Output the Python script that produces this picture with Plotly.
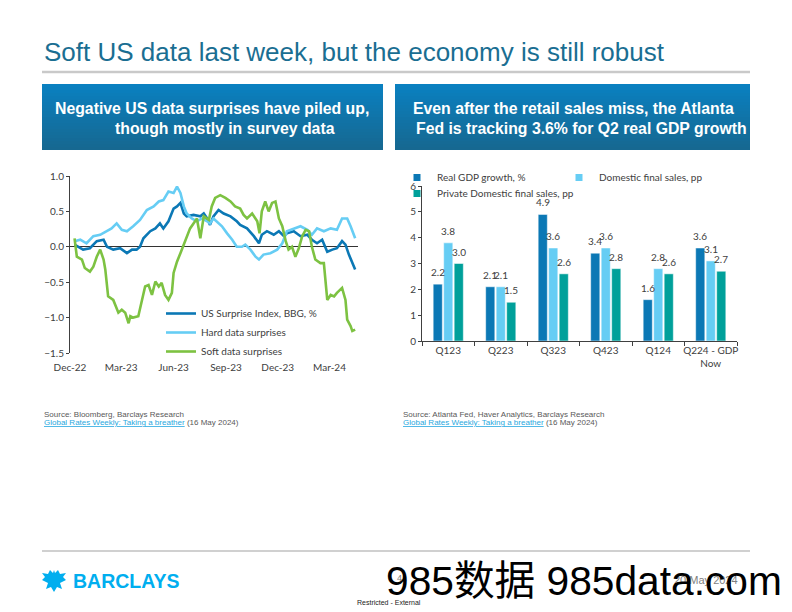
import plotly.graph_objects as go
import pandas as pd

W, H = 792, 612


def px(x):
    return x / W


def py(y):
    return 1 - y / H


# -------------------------------------------------
# Data: left chart (days after 1 Dec 2022, index value)
# -------------------------------------------------
START = pd.Timestamp("2022-12-01")

us_days = [8, 23, 35, 47, 59, 65, 76, 88, 100, 109, 117, 123, 129, 141, 150, 158,
           164, 173, 182, 188, 194, 200, 205, 217, 229, 235, 241, 246, 252, 261,
           270, 282, 293, 299, 311, 323, 332, 337, 346, 358, 367, 376, 381, 393,
           405, 417, 425, 434, 443, 452, 461, 469, 478, 484, 490, 496, 501]
us_vals = [0.03, -0.04, -0.02, 0.08, 0.10, 0.0, -0.04, -0.02, -0.09, -0.04, -0.04,
           0.0, 0.12, 0.22, 0.26, 0.33, 0.26, 0.36, 0.54, 0.57, 0.62, 0.47, 0.43,
           0.45, 0.43, 0.47, 0.40, 0.31, 0.43, 0.52, 0.47, 0.43, 0.36, 0.31, 0.26,
           0.15, 0.05, 0.17, 0.22, 0.17, 0.22, 0.15, 0.19, 0.22, 0.15, 0.17, 0.10,
           0.05, 0.10, -0.07, -0.04, -0.02, 0.08, 0.03, -0.11, -0.23, -0.32]

hard_days = [8, 18, 29, 41, 53, 65, 73, 82, 91, 100, 111, 123, 135, 147, 156, 164,
             173, 182, 188, 194, 200, 205, 214, 223, 232, 241, 246, 252, 258, 267,
             276, 285, 293, 302, 308, 317, 326, 332, 340, 352, 364, 373, 381, 393,
             405, 417, 425, 434, 446, 458, 469, 478, 487, 493, 501]
hard_vals = [0.08, 0.10, 0.05, 0.15, 0.17, 0.22, 0.26, 0.33, 0.24, 0.22, 0.29, 0.38,
             0.52, 0.57, 0.64, 0.66, 0.78, 0.76, 0.85, 0.76, 0.57, 0.47, 0.40, 0.36,
             0.40, 0.36, 0.33, 0.40, 0.36, 0.29, 0.19, 0.10, 0.0, 0.0, 0.03, -0.04,
             -0.14, -0.18, -0.11, -0.09, -0.04, 0.05, 0.22, 0.26, 0.29, 0.24, 0.17,
             0.26, 0.22, 0.26, 0.24, 0.40, 0.40, 0.29, 0.12]

soft_days = [8, 12, 21, 26, 35, 41, 47, 53, 59, 62, 67, 76, 85, 91, 97, 103, 106,
             111, 120, 126, 132, 138, 144, 150, 156, 161, 167, 173, 179, 182, 188,
             194, 200, 205, 211, 217, 223, 229, 235, 244, 249, 255, 264, 273, 282,
             290, 299, 305, 311, 320, 329, 333, 337, 343, 349, 355, 361, 367, 373,
             379, 384, 390, 396, 402, 408, 414, 420, 425, 431, 440, 446, 452, 458,
             464, 469, 478, 484, 487, 493, 496, 501]
soft_vals = [0.12, -0.14, -0.18, -0.30, -0.35, -0.28, -0.14, -0.04, -0.18, -0.32,
             -0.70, -0.75, -0.93, -0.89, -0.93, -1.08, -0.98, -1.0, -0.98, -0.75,
             -0.56, -0.54, -0.68, -0.49, -0.56, -0.51, -0.68, -0.75, -0.65, -0.37,
             -0.21, -0.09, 0.03, 0.12, 0.26, 0.33, 0.40, 0.12, 0.43, 0.38, 0.57,
             0.69, 0.73, 0.69, 0.64, 0.57, 0.54, 0.45, 0.40, 0.47, 0.36, 0.19, 0.50,
             0.64, 0.50, 0.62, 0.64, 0.40, 0.29, 0.08, -0.04, 0.0, -0.14, -0.02,
             0.15, 0.24, 0.22, 0.0, -0.18, -0.23, -0.23, -0.75, -0.68, -0.70, -0.65,
             -0.58, -0.75, -1.03, -1.12, -1.19, -1.17]

# -------------------------------------------------
# Data: right chart
# -------------------------------------------------
quarters = ["Q123", "Q223", "Q323", "Q423", "Q124", "Q224 - GDP<br>Now"]
real_gdp = [2.2, 2.1, 4.9, 3.4, 1.6, 3.6]
dom_final = [3.8, 2.1, 3.6, 3.6, 2.8, 3.1]
priv_dom = [3.0, 1.5, 2.6, 2.8, 2.6, 2.7]

DARK = "#0b78b5"
LIGHT = "#66cdf4"
TEAL = "#00a09a"
GREEN = "#7dc242"
AXIS = "#404040"
CHART_FONT = "Lato"
SANS = "Liberation Sans"


def to_dates(days):
    return [START + pd.Timedelta(days=d) for d in days]


fig = go.Figure()

# -------------------------------------------------
# Left: surprise indices
# -------------------------------------------------
for name, days, vals, color in [
    ("US Surprise Index, BBG, %", us_days, us_vals, DARK),
    ("Hard data surprises", hard_days, hard_vals, LIGHT),
    ("Soft data surprises", soft_days, soft_vals, GREEN),
]:
    fig.add_trace(go.Scatter(
        x=to_dates(days), y=vals, mode="lines", name=name,
        line=dict(color=color, width=2.6),
        xaxis="x", yaxis="y", legend="legend",
    ))

# -------------------------------------------------
# Right: GDP tracking bars
# -------------------------------------------------
bar_series = [
    ("Real GDP growth, %", real_gdp, DARK, "legend2"),
    ("Domestic final sales, pp", dom_final, LIGHT, "legend2"),
    ("Private Domestic final sales, pp", priv_dom, TEAL, "legend3"),
]
for name, vals, color, leg in bar_series:
    fig.add_trace(go.Bar(
        x=quarters, y=vals, name=name, marker_color=color,
        marker_line=dict(color="white", width=0.5),
        xaxis="x2", yaxis="y2", showlegend=False,
    ))
    # legend-only entry with a small square swatch
    fig.add_trace(go.Scatter(
        x=[None], y=[None], mode="markers", name=name,
        marker=dict(symbol="square", size=7, color=color),
        xaxis="x2", yaxis="y2", legend=leg,
    ))

annotations = []
offsets = [-10.3, 0, 10.3]
for (name, vals, color, leg), dx in zip(bar_series, offsets):
    for q, v in zip(quarters, vals):
        annotations.append(dict(
            x=q, y=v, xref="x2", yref="y2", text=f"{v:.1f}", showarrow=False,
            xshift=dx, yshift=4, yanchor="bottom",
            font=dict(family=CHART_FONT, size=10, color=AXIS),
        ))

# -------------------------------------------------
# Slide furniture
# -------------------------------------------------
shapes = [
    dict(type="line", xref="paper", yref="paper", x0=px(42), x1=px(750),
         y0=py(72), y1=py(72), line=dict(color="#c9c9c9", width=2.5)),
    dict(type="line", xref="paper", yref="paper", x0=px(42), x1=px(750),
         y0=py(551), y1=py(551), line=dict(color="#d0d0d0", width=2)),
]

# header boxes with a vertical gradient
top_rgb, bot_rgb = (10, 128, 192), (22, 104, 145)
n_strips = 22
for x0, x1 in [(42, 383), (395, 750)]:
    for i in range(n_strips):
        t = i / (n_strips - 1)
        c = tuple(round(a + (b - a) * t) for a, b in zip(top_rgb, bot_rgb))
        y0 = 84 + (150 - 84) * i / n_strips
        y1 = 84 + (150 - 84) * (i + 1) / n_strips
        shapes.append(dict(
            type="rect", xref="paper", yref="paper", layer="below",
            x0=px(x0), x1=px(x1), y0=py(min(y1 + 0.6, 150)), y1=py(y0),
            fillcolor=f"rgb{c}", line=dict(width=0),
        ))

# simple eagle mark for the logo
shapes.append(dict(
    type="path", xref="paper", yref="paper", xsizemode="pixel", ysizemode="pixel",
    xanchor=px(54), yanchor=py(581),
    path="M 0,-11 L -3,-6 L -8,-8 L -6,-2 L -12,1 L -9,4 L -12,8 L -6,7 L -4,11 "
         "L -1,8 L 0,11 L 1,8 L 4,11 L 6,7 L 12,8 L 9,4 L 12,1 L 6,-2 L 8,-8 "
         "L 3,-6 Z",
    fillcolor="#00aeef", line=dict(width=0),
))

texts = [
    ("Soft US data last week, but the economy is still robust", 42, 52, "left",
     dict(family=SANS, size=26, color="#1a6e92")),
    ("<b>Negative US data surprises have piled up,</b>", 212, 108, "center",
     dict(family=SANS, size=15.8, color="white")),
    ("<b>though mostly in survey data</b>", 225, 128, "center",
     dict(family=SANS, size=15.8, color="white")),
    ("<b>Even after the retail sales miss, the Atlanta</b>", 573, 108, "center",
     dict(family=SANS, size=15.8, color="white")),
    ("<b>Fed is tracking 3.6% for Q2 real GDP growth</b>", 581, 128, "center",
     dict(family=SANS, size=15.8, color="white")),
    ("Source: Bloomberg, Barclays Research", 42, 414, "left",
     dict(family=SANS, size=8, color="#595959")),
    ("<span style='color:#29a8e0;text-decoration:underline'>Global Rates Weekly: "
     "Taking a breather</span> (16 May 2024)", 42, 422, "left",
     dict(family=SANS, size=8, color="#595959")),
    ("Source: Atlanta Fed, Haver Analytics, Barclays Research", 401, 414, "left",
     dict(family=SANS, size=8, color="#595959")),
    ("<span style='color:#29a8e0;text-decoration:underline'>Global Rates Weekly: "
     "Taking a breather</span> (16 May 2024)", 401, 422, "left",
     dict(family=SANS, size=8, color="#595959")),
    ("<b>BARCLAYS</b>", 71, 581, "left",
     dict(family=SANS, size=19.5, color="#00aeef")),
    ("4", 395, 578, "left", dict(family=SANS, size=9, color="#7f7f7f")),
    ("20 May 2024", 672, 580, "left", dict(family=SANS, size=11, color="#7f7f7f")),
    ("Restricted - External", 355, 602, "left",
     dict(family=SANS, size=7, color="#222222")),
    ("985数据 985data.com", 384, 581, "left",
     dict(family="Liberation Sans, Noto Sans CJK SC", size=40.7, color="black")),
]
for text, x, y, anchor, font in texts:
    annotations.append(dict(
        x=px(x), y=py(y), xref="paper", yref="paper", text=text,
        xanchor=anchor, yanchor="middle", showarrow=False, font=font,
    ))

fig.update_layout(
    width=W, height=H, autosize=False,
    margin=dict(l=0, r=0, t=0, b=0, pad=0, autoexpand=False),
    paper_bgcolor="white", plot_bgcolor="rgba(0,0,0,0)",
    font=dict(family=CHART_FONT, size=10, color=AXIS),
    barmode="group", bargap=0.40, bargroupgap=0.13,
    shapes=shapes, annotations=annotations,
    xaxis=dict(
        domain=[px(70), px(358)], anchor="y", type="date",
        range=[START, START + pd.Timedelta(days=506)],
        tick0="2022-12-01", dtick="M3", tickformat="%b-%y",
        showgrid=False, showline=False, ticks="", ticklabelstandoff=7,
        tickfont=dict(size=10, color=AXIS), automargin=False,
    ),
    yaxis=dict(
        domain=[py(353), py(176)], anchor="x", range=[-1.5, 1.0], dtick=0.5,
        tickformat=".1f", showgrid=False, showline=True, linecolor=AXIS,
        linewidth=1, ticks="outside", ticklen=3, tickcolor=AXIS,
        zeroline=True, zerolinecolor="#333333", zerolinewidth=1.2,
        tickfont=dict(size=10, color=AXIS), automargin=False,
    ),
    xaxis2=dict(
        domain=[px(422), px(737)], anchor="y2", type="category", tickangle=0,
        showgrid=False, showline=True, linecolor=AXIS, linewidth=1,
        ticks="outside", tickson="boundaries", ticklen=4, tickcolor=AXIS,
        tickfont=dict(size=10, color=AXIS), automargin=False,
    ),
    yaxis2=dict(
        domain=[py(341), py(186)], anchor="x2", range=[0, 6], dtick=1,
        showgrid=False, showline=True, linecolor=AXIS, linewidth=1,
        ticks="outside", ticklen=3, tickcolor=AXIS, zeroline=False,
        tickfont=dict(size=10, color=AXIS), automargin=False,
    ),
    legend=dict(
        x=px(161), y=py(299), xanchor="left", yanchor="top",
        bgcolor="rgba(0,0,0,0)", font=dict(size=10, color=AXIS),
        tracegroupgap=2,
    ),
    legend2=dict(
        x=px(397), y=py(163), xanchor="left", yanchor="top",
        orientation="h", entrywidth=117, entrywidthmode="pixels",
        bgcolor="rgba(0,0,0,0)", font=dict(size=10, color=AXIS),
    ),
    legend3=dict(
        x=px(397), y=py(179), xanchor="left", yanchor="top",
        orientation="h", bgcolor="rgba(0,0,0,0)", font=dict(size=10, color=AXIS),
    ),
)

# drop the page's default body margin so the slide sits at the window origin
fig.write_html(
    "out.html",
    config={"displayModeBar": False},
    post_script="document.body.style.margin = '0';",
)
